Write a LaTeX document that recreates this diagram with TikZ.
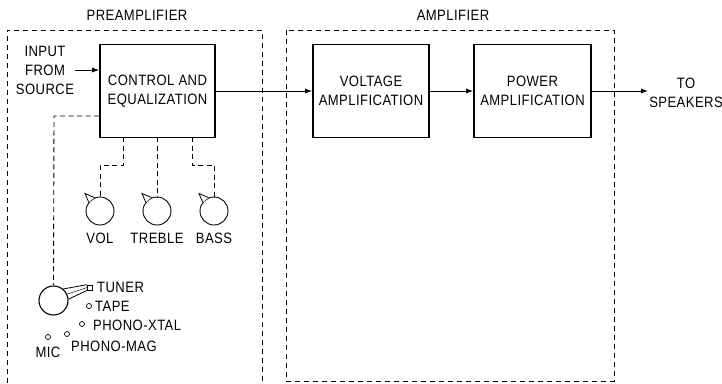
\documentclass[tikz,border=0pt]{standalone}
\usepackage{fontspec}
\setmainfont{Liberation Sans}[FakeStretch=0.87,LetterSpace=3]
\usetikzlibrary{arrows.meta,calc}
\begin{document}
\begin{tikzpicture}[x=1pt,y=-1pt,
  txt/.style={font=\fontsize{15}{19}\selectfont, inner sep=0pt, align=center},
  block/.style={draw, line width=1.6pt, minimum width=115pt, minimum height=93pt, inner sep=0pt, align=center, font=\fontsize{15}{19}\selectfont},
  frame/.style={dashed, line width=0.9pt, dash pattern=on 5pt off 4pt},
  ctl/.style={dashed, line width=0.9pt, dash pattern=on 5pt off 3.5pt},
  sig/.style={line width=0.9pt, -{Latex[length=7pt,width=5pt]}},
  knob/.style={draw, circle, line width=0.9pt, minimum size=28pt, inner sep=0pt},
  contact/.style={draw, circle, line width=0.7pt, minimum size=5pt, inner sep=0pt}]
\useasboundingbox (0,0) rectangle (722,383);
% frames
\draw[frame] (7,383) -- (7,30) -- (262,30) -- (262,383);
\draw[frame] (286,30) rectangle (614,381);
\node[txt] (lpre) at (137,15) {PREAMPLIFIER};
\node[txt] (lamp) at (453,15) {AMPLIFIER};
% blocks
\node[block] (ctrl) at (157.5,91) {CONTROL AND\\EQUALIZATION};
\node[block, minimum width=116pt] (volt) at (371,91) {VOLTAGE\\AMPLIFICATION};
\node[block, minimum width=117pt] (pow) at (532.5,91) {POWER\\AMPLIFICATION};
% input
\node[txt] (inp) at (45,70) {INPUT\\FROM\\SOURCE};
\coordinate (inS) at (75,70);
\draw[sig] (inS) -- (ctrl.west |- inS);
% signal path
\draw[sig] (ctrl.east) -- (volt.west);
\draw[sig] (volt.east) -- (pow.west);
\coordinate (outE) at (648,91);
\draw[sig] (pow.east) -- (outE);
\node[txt] (spk) at (686,93) {TO\\SPEAKERS};
% knobs
\node[knob] (vol) at (100,211) {};
\node[knob] (tre) at (157,211) {};
\node[knob] (bas) at (214,211) {};
\foreach \k in {vol,tre,bas}{
  \draw[line width=0.8pt, fill=white] (\k.142) -- ($(\k.center)+(-15,-17.5)$) -- (\k.112);
}
\node[txt] (lvol) at (100,238) {VOL};
\node[txt] (ltre) at (157,238) {TREBLE};
\node[txt] (lbas) at (214,238) {BASS};
% control dashed lines
\coordinate (c1) at (123,137);
\coordinate (c2) at (157,137);
\coordinate (c3) at (192,137);
\draw[ctl] (c1) -- (123,165) -- (100,165) -- (vol.north);
\draw[ctl] (c2) -- (tre.north);
\draw[ctl] (c3) -- (192,165) -- (214,165) -- (bas.north);
% selector
\node[draw, circle, line width=1.1pt, minimum size=29pt, inner sep=0pt] (sel) at (53.5,300.5) {};
\coordinate (s0) at (ctrl.west |- 0,116);
\draw[ctl] (s0) -- (54,116) -- (sel.north);
\node[draw, line width=0.7pt, minimum width=5pt, minimum height=5pt, inner sep=0pt] (ktun) at (90,287.5) {};
\draw[line width=0.8pt] (sel.50) -- (ktun.north west) (sel.5) -- (ktun.south west);
\draw[line width=0.5pt] (sel.25) -- (ktun.west);
\node[contact] (ktap) at (89,306) {};
\node[contact] (kxtl) at (82,324) {};
\node[contact] (kmag) at (67,334) {};
\node[contact] (kmic) at (48,337) {};
\node[txt, anchor=west] (ltun) at (97,287.5) {TUNER};
\node[txt, anchor=west] (ltap) at (95,306) {TAPE};
\node[txt, anchor=west] (lxtl) at (93,325) {PHONO-XTAL};
\node[txt, anchor=west] (lmag) at (71,346) {PHONO-MAG};
\node[txt] (lmic) at (48,352) {MIC};
\end{tikzpicture}
\end{document}
